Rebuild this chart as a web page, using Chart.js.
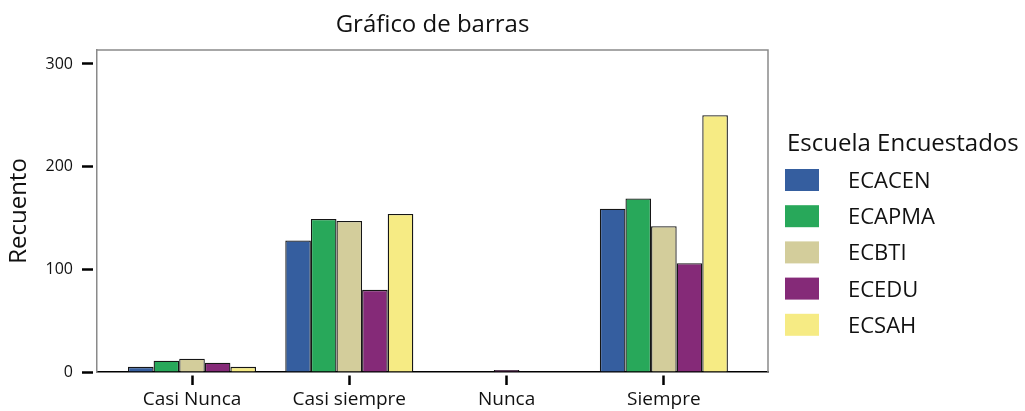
<!DOCTYPE html>
<html lang="es">
<head>
<meta charset="utf-8">
<title>Gráfico de barras</title>
<script src="https://cdn.jsdelivr.net/npm/chart.js@4.4.1/dist/chart.umd.min.js"></script>
<style>
  html, body { margin: 0; padding: 0; background: #fff; }
  canvas { display: block; }
</style>
</head>
<body>
<canvas id="grafico" width="1025" height="411"></canvas>
<script>
// Categorías de respuesta (eje X)
const categorias = ['Casi Nunca', 'Casi siempre', 'Nunca', 'Siempre'];

// Recuento por escuela, en el orden de las categorías (null = sin casos)
const ecacen = [5, 128, null, 159];
const ecapma = [11, 149, null, 169];
const ecbti = [13, 147, null, 142];
const ecedu = [9, 80, 2, 106];
const ecsah = [5, 154, null, 250];

const escuelas = ['ECACEN', 'ECAPMA', 'ECBTI', 'ECEDU', 'ECSAH'];
const series = [ecacen, ecapma, ecbti, ecedu, ecsah];

// Marcas del eje Y
const ticksY = [0, 100, 200, 300];

// Colores tipo SPSS
const colores = ['#355E9F', '#28A85A', '#D3CD9B', '#852A78', '#F6EB84'];
const fuente = "'Open Sans', Lato, sans-serif";

// Marco gris, título y leyenda
const marcoPlugin = {
    id: 'marco',
    afterDraw(chart) {
        const { ctx, chartArea: a } = chart;
        ctx.save();
        ctx.strokeStyle = '#8a8a8a';
        ctx.lineWidth = 1.5;
        ctx.beginPath();
        ctx.moveTo(a.left, a.top);
        ctx.lineTo(a.right, a.top);
        ctx.lineTo(a.right, a.bottom);
        ctx.stroke();

        // título centrado sobre el área del gráfico
        ctx.fillStyle = '#111';
        ctx.textAlign = 'center';
        ctx.textBaseline = 'alphabetic';
        ctx.font = `24px ${fuente}`;
        ctx.fillText('Gráfico de barras', (a.left + a.right) / 2, 32);

        // leyenda
        const x0 = a.right + 17;
        ctx.textAlign = 'left';
        ctx.font = `24px ${fuente}`;
        ctx.fillText('Escuela Encuestados', x0 + 2, 151);
        ctx.font = `22px ${fuente}`;
        chart.data.datasets.forEach((ds, i) => {
            const yc = 180 + i * 36.2;
            ctx.fillStyle = ds.backgroundColor;
            ctx.fillRect(x0, yc - 11, 34, 22);
            ctx.fillStyle = '#111';
            ctx.fillText(ds.label, x0 + 63, yc + 8);
        });
        ctx.restore();
    }
};

// skipNull centra las barras cuando faltan escuelas; maxBarThickness mantiene el ancho
const datasets = escuelas.map((nombre, i) => ({
    label: nombre,
    data: series[i].map((v, j) => ({ x: j, y: v })),
    backgroundColor: colores[i],
    borderColor: '#161616',
    borderWidth: 1.3,
    borderSkipped: 'start',
    skipNull: true,
    categoryPercentage: 0.814,
    barPercentage: 1,
    maxBarThickness: 25.6,
}));

new Chart(document.getElementById('grafico'), {
    type: 'bar',
    data: { datasets },
    options: {
        responsive: false,
        animation: false,
        layout: { padding: { top: 50, right: 257, left: 0, bottom: 0 } },
        plugins: {
            legend: { display: false },
            title: { display: false },
            tooltip: { enabled: false },
        },
        scales: {
            x: {
                type: 'linear',
                offset: false,
                min: -0.604,
                max: 3.662,
                afterBuildTicks: (s) => { s.ticks = categorias.map((_, i) => ({ value: i })); },
                afterFit: (s) => { s.height = 39; },
                border: { display: true, color: '#000', width: 1.5 },
                grid: {
                    offset: false,
                    drawOnChartArea: false,
                    drawTicks: true,
                    tickLength: 13,
                    tickColor: '#000',
                    tickWidth: 2.5,
                    tickBorderDash: [0, 3, 10, 20],
                },
                ticks: {
                    callback: (v) => categorias[v],
                    color: '#111',
                    font: { family: fuente, size: 19 },
                    padding: 3,
                    maxRotation: 0,
                    autoSkip: false,
                },
            },
            y: {
                min: 0,
                max: 313.6,
                afterBuildTicks: (s) => { s.ticks = ticksY.map((v) => ({ value: v })); },
                afterFit: (s) => { s.width = 97; },
                border: { display: true, color: '#8a8a8a', width: 1.5 },
                grid: {
                    drawOnChartArea: false,
                    drawTicks: true,
                    tickLength: 15,
                    tickColor: '#000',
                    tickWidth: 2.5,
                    tickBorderDash: [11, 4],
                },
                ticks: {
                    color: '#111',
                    font: { family: fuente, size: 16 },
                    padding: 9,
                },
                title: {
                    display: true,
                    text: 'Recuento',
                    color: '#111',
                    font: { family: fuente, size: 24 },
                    padding: { top: 5, bottom: 0 },
                },
            },
        },
    },
    plugins: [marcoPlugin],
});
</script>
</body>
</html>
